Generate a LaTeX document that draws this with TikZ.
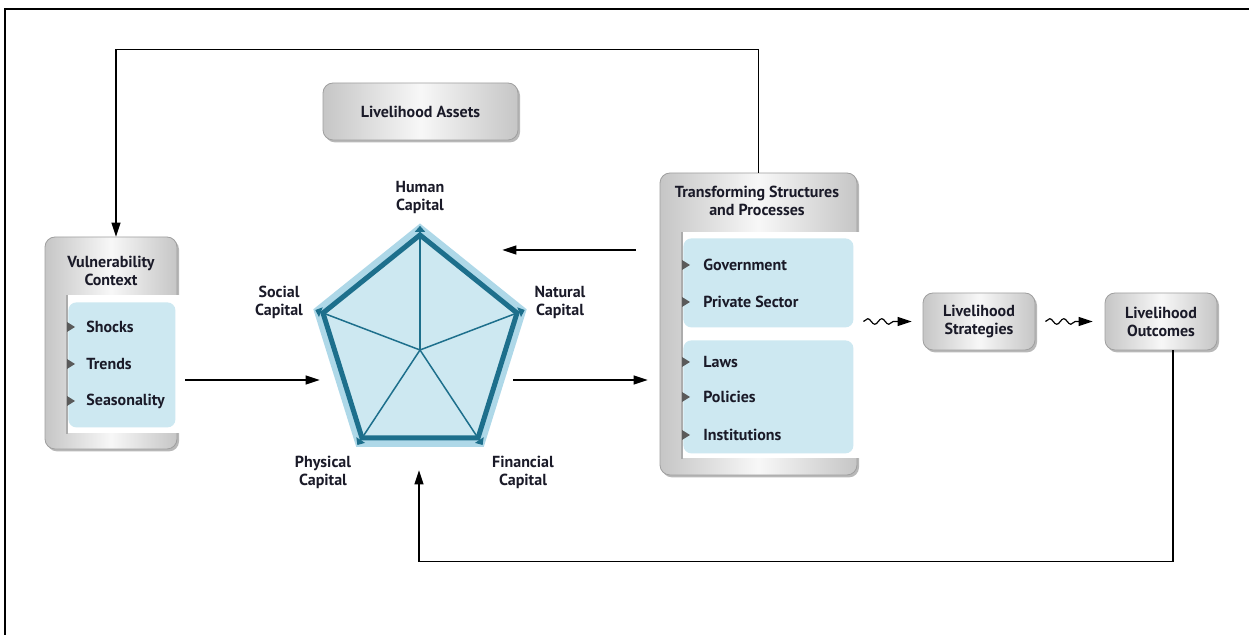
\documentclass[tikz,border=0pt]{standalone}
\usepackage{fontspec}
\setmainfont{PT Sans}
\usetikzlibrary{arrows.meta,shadows,decorations.pathmorphing,calc}
\definecolor{panel}{HTML}{CDE8F1}
\definecolor{pteal}{HTML}{1D6F8C}
\definecolor{halo}{HTML}{AED8E8}
\definecolor{bul}{HTML}{5A5A5A}
\definecolor{ink}{HTML}{1A1A28}
\begin{document}
\begin{tikzpicture}[x=0.5pt,y=-0.5pt,
  every node/.style={font=\fontsize{8}{9}\selectfont\bfseries, text=ink},
  graybox/.style={draw=gray!75, line width=0.4pt, rounded corners=5pt,
    left color=gray!45, right color=gray!45, middle color=gray!6,
    drop shadow={shadow xshift=1pt, shadow yshift=-1.2pt, fill=gray!70, opacity=0.8},
    align=center, inner sep=0pt},
  inner/.style={fill=white, draw=none, inner sep=0pt, anchor=north west},
  panelbox/.style={fill=panel, draw=none, rounded corners=4pt, inner sep=0pt, anchor=north west},
  item/.style={anchor=west, inner sep=0pt},
  arr/.style={-{Triangle[length=7pt,width=4.5pt]}, line width=0.65pt, black},
  wavy/.style={-{Triangle[length=7pt,width=4.5pt]}, line width=0.6pt, black,
    decorate, decoration={snake, amplitude=1.4pt, segment length=7pt, pre length=0pt, post length=7pt}},
]
\useasboundingbox (0,0) rectangle (1249,635);
% frame
\draw[line width=1pt] (5,635) -- (5,9) -- (1249,9);

% Livelihood Assets
\node[graybox, minimum width=97.5pt, minimum height=28.5pt] (la) at (420.5,111.5) {Livelihood Assets};

% Vulnerability Context
\node[graybox, minimum width=66pt, minimum height=106pt] (vc) at (111,343) {};
\node[inner, minimum width=57pt, minimum height=69pt] (vcin) at (67,295) {};
\draw[gray!65, line width=1pt] (vcin.north west) -- (vcin.south west);
\node[panelbox, minimum width=53.5pt, minimum height=62.5pt] (vcp) at (68,302) {};
\node[align=center] (vct) at (111,271) {Vulnerability\\Context};
\foreach \yy in {327,364,401}{\fill[bul] (67,\yy-5) -- (75,\yy) -- (67,\yy+5) -- cycle;}
\node[item] (shocks) at (86,327) {Shocks};
\node[item] (trends) at (86,364) {Trends};
\node[item] (season) at (86,401) {Seasonality};

% Transforming Structures and Processes
\node[graybox, minimum width=98.5pt, minimum height=151pt] (tsp) at (758.5,324) {};
\node[inner, minimum width=90pt, minimum height=113pt] (tspin) at (682,232) {};
\draw[gray!65, line width=1pt] (tspin.north west) -- (tspin.south west);
\node[panelbox, minimum width=85pt, minimum height=44.5pt] (tp1) at (683,238) {};
\node[panelbox, minimum width=85pt, minimum height=56.5pt] (tp2) at (683,340) {};
\node[align=center] (tspt) at (757,201) {Transforming Structures\\and Processes};
\foreach \yy in {265,302,362,397,435}{\fill[bul] (682,\yy-5) -- (690,\yy) -- (682,\yy+5) -- cycle;}
\node[item] (gov) at (703,265) {Government};
\node[item] (priv) at (703,302) {Private Sector};
\node[item] (laws) at (703,362) {Laws};
\node[item] (pol) at (703,397) {Policies};
\node[item] (inst) at (703,435) {Institutions};

% Strategies and outcomes
\node[graybox, minimum width=56pt, minimum height=28.5pt] (ls) at (979,321.5) {Livelihood\\Strategies};
\node[graybox, minimum width=56pt, minimum height=28.5pt] (lo) at (1161,321.5) {Livelihood\\Outcomes};

% Pentagon
\coordinate (C) at (420,350);
\coordinate (H) at (420,235);
\coordinate (So) at (323,313);
\coordinate (Na) at (517,313);
\coordinate (Ph) at (362,438);
\coordinate (Fi) at (478,438);
\fill[halo] ($(C)!1.1!(H)$) -- ($(C)!1.1!(Na)$) -- ($(C)!1.1!(Fi)$) -- ($(C)!1.1!(Ph)$) -- ($(C)!1.1!(So)$) -- cycle;
\fill[panel] (H) -- (Na) -- (Fi) -- (Ph) -- (So) -- cycle;
\foreach \v in {H,So,Na,Ph,Fi}{
  \draw[pteal, line width=0.75pt] (C) -- (\v);
  \draw[pteal, line width=0.8pt, -{Triangle[length=3pt,width=5pt]}] (\v) -- ($(C)!1.08!(\v)$);
}
\draw[pteal, line width=2.5pt, line join=miter] (H) -- (Na) -- (Fi) -- (Ph) -- (So) -- cycle;
\node[inner sep=0pt, minimum width=100pt, minimum height=130pt] (pent) at (420,340) {};

\node[align=center] (hc) at (420,198) {Human\\Capital};
\node[align=center] (sc) at (279,302) {Social\\Capital};
\node[align=center] (nc) at (560,302) {Natural\\Capital};
\node[align=center] (pc) at (323,472) {Physical\\Capital};
\node[align=center] (fc) at (523,472) {Financial\\Capital};

% connectors
\draw[arr] ([xshift=4pt,yshift=-18.5pt]vc.east) -- ([yshift=-20pt]pent.west);
\draw[arr] ([xshift=-3.5pt,yshift=-20pt]pent.east) -- ([xshift=-6pt,yshift=-28pt]tsp.west);
\draw[arr] ([xshift=-12pt,yshift=37pt]tsp.west) -- ([xshift=-9pt,yshift=45pt]pent.east);
\draw[arr] (tsp.north) -- ++(0,-123) -| ([xshift=2.5pt]vc.north);
\draw[arr] ([xshift=6pt]lo.south) -- ++(0,211) -| ([xshift=-0.5pt]pent.south);
\draw[wavy] ($(tsp.east |- ls.west)+(6,0)$) -- ($(ls.west)+(-11,0)$);
\draw[wavy] ($(ls.east)+(10,0)$) -- ($(lo.west)+(-12,0)$);
\end{tikzpicture}
\end{document}
